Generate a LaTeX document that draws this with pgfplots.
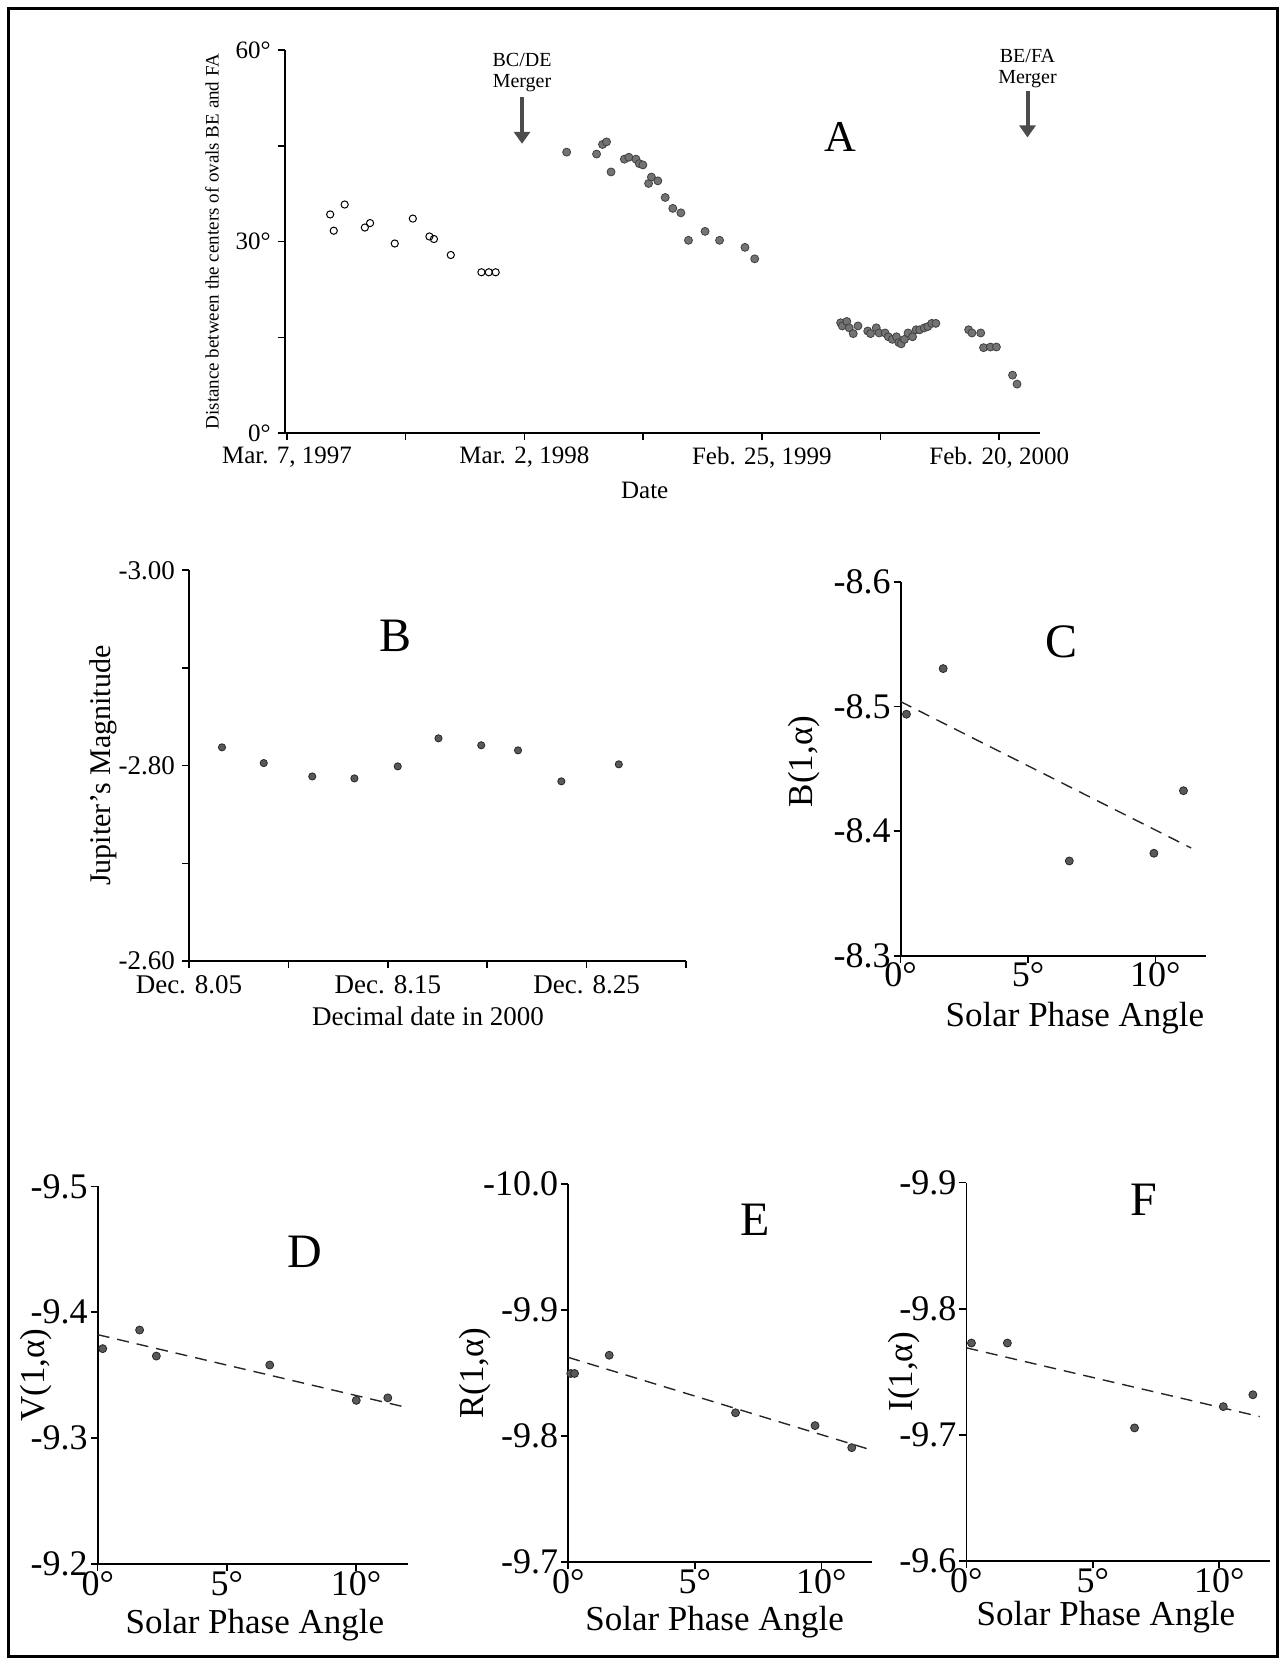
\documentclass[border=0pt]{standalone}
\usepackage{fontspec}
\setmainfont{Liberation Serif}
\usepackage{pgfplots}
\pgfplotsset{compat=1.18}
\usetikzlibrary{arrows.meta}
\newcommand{\fs}[1]{\fontsize{#1}{#1}\selectfont}
\tikzset{letter/.style={font=\fs{24}}}
\pgfplotsset{
  panel/.style={
    scale only axis, anchor=south west, clip=false,
    axis lines*=left, tick align=outside,
    major tick length=3.5pt,
    axis line style={line width=0.9pt, black},
    every tick/.style={line width=0.8pt, black},
    /pgf/number format/assume math mode=true,
    enlargelimits=false,
  },
  dots/.style={only marks, mark=*, mark size=2pt,
    mark options={fill=black!65, draw=black!85, line width=0.4pt}},
  fitline/.style={no marks, black!85, line width=0.7pt, dash pattern=on 6pt off 4pt},
  phase/.style={xmin=0, xmax=12, xtick={0,5,10}, xticklabels={0°,5°,10°},
    y dir=reverse, tick label style={font=\fs{18}},
    xticklabel style={yshift=3.5pt}, yticklabel style={xshift=2pt},
    xlabel={Solar Phase Angle}, label style={font=\fs{17.5}}},
}
\begin{document}
\begin{tikzpicture}
\useasboundingbox (0,0) rectangle (642.5pt,832.5pt);
\draw[line width=1.2pt] (4.25pt,4.15pt) rectangle (638.8pt,828.25pt);

% ---------------- Panel A ----------------
\begin{axis}[panel, at={(142.3pt,615.85pt)}, width=377.5pt, height=191.7pt,
  xmin=-0.01, xmax=3.17, ymin=0, ymax=60,
  xtick={0,0.5,1,1.5,2,2.5,3},
  xticklabels={{Mar. 7, 1997},{},{Mar. 2, 1998},{},{Feb. 25, 1999},{},{Feb. 20, 2000}},
  ytick={0,15,30,45,60}, yticklabels={0°,,30°,,60°},
  tick label style={font=\fs{12.5}},
  xlabel={Date}, xlabel style={font=\fs{12.5}, at={(axis description cs:0.477,-0.149)}, anchor=center},
  ylabel={Distance between the centers of ovals BE and FA},
  ylabel style={font=\fs{9.5}, at={(axis description cs:-0.096,0.5)}, anchor=center},
]
\addplot[only marks, mark=o, mark size=1.8pt, mark options={draw=black, line width=0.5pt}] coordinates {
(0.182,34.25) (0.197,31.7) (0.243,35.8) (0.328,32.2) (0.350,32.9) (0.454,29.7)
(0.530,33.6) (0.600,30.8) (0.619,30.4) (0.690,27.9) (0.819,25.2) (0.850,25.2) (0.879,25.2)
};
\addplot[only marks, mark=*, mark size=2pt, mark options={fill=black!55, draw=black!75, line width=0.4pt}] coordinates {
(1.178,44.0) (1.304,43.7) (1.329,45.2) (1.346,45.6) (1.365,40.9) (1.421,42.9)
(1.440,43.2) (1.470,42.9) (1.484,42.2) (1.499,42.0) (1.523,39.1) (1.535,40.1)
(1.562,39.5) (1.593,36.9) (1.625,35.2) (1.659,34.5) (1.691,30.2) (1.761,31.6)
(1.822,30.2) (1.929,29.1) (1.970,27.3)
(2.332,17.3) (2.339,16.8) (2.358,17.5) (2.368,16.5) (2.385,15.6) (2.405,16.8)
(2.446,16.0) (2.458,15.6) (2.482,16.5) (2.494,15.7) (2.519,15.7) (2.533,15.1)
(2.550,14.7) (2.567,15.1) (2.577,14.2) (2.587,14.0) (2.601,14.7) (2.616,15.7)
(2.635,15.1) (2.650,16.2) (2.665,16.2) (2.684,16.5) (2.699,16.7) (2.716,17.2) (2.733,17.2)
(2.871,16.2) (2.885,15.7) (2.922,15.7) (2.934,13.4) (2.963,13.5) (2.988,13.5)
(3.056,9.1) (3.075,7.7)
};
\draw[-{Triangle[width=8pt,length=6pt]}, line width=2pt, black!70] (axis cs:0.99,52.6) -- (axis cs:0.99,45.3);
\draw[-{Triangle[width=8pt,length=6pt]}, line width=2pt, black!70] (axis cs:3.119,53.5) -- (axis cs:3.119,46.3);
\node[align=center, font=\fontsize{10}{10.5}\selectfont] at (axis cs:0.99,56.4) {BC/DE\\Merger};
\node[align=center, font=\fontsize{10}{10.5}\selectfont] at (axis cs:3.119,57.05) {BE/FA\\Merger};
\node[font=\fs{22}] at (axis cs:2.332,46.4) {A};
\end{axis}

% ---------------- Panel B ----------------
\begin{axis}[panel, at={(94.5pt,351.95pt)}, width=248.5pt, height=195.4pt,
  xmin=8.05, xmax=8.30, ymin=-3, ymax=-2.6, y dir=reverse,
  xtick={8.05,8.10,8.15,8.20,8.25,8.30},
  xticklabels={Dec. 8.05,,Dec. 8.15,,Dec. 8.25,},
  ytick={-3,-2.9,-2.8,-2.7,-2.6}, yticklabels={-3.00,,-2.80,,-2.60},
  tick label style={font=\fs{13.5}},
  xlabel={Decimal date in 2000}, xlabel style={font=\fs{13.5}, at={(axis description cs:0.481,-0.141)}, anchor=center},
  ylabel={Jupiter’s Magnitude}, ylabel style={font=\fs{15}, at={(axis description cs:-0.173,0.5)}, anchor=center},
]
\addplot[dots, mark size=1.8pt] coordinates {
(8.0666,-2.8188) (8.0876,-2.8027) (8.1120,-2.7890) (8.1332,-2.7870) (8.1550,-2.7993)
(8.1755,-2.8280) (8.1970,-2.8209) (8.2155,-2.8157) (8.2373,-2.7840) (8.2662,-2.8014)
};
\node[letter] at (axis cs:8.154,-2.933) {B};
\end{axis}

% ---------------- Panel C ----------------
\begin{axis}[panel, phase, at={(450.3pt,354.6pt)}, width=152.9pt, height=186.9pt,
  ymin=-8.6, ymax=-8.3, ytick={-8.6,-8.5,-8.4,-8.3}, yticklabels={-8.6,-8.5,-8.4,-8.3},
  xlabel style={at={(axis description cs:0.57,-0.167)}, anchor=center},
  ylabel={B(1,α)}, ylabel style={at={(axis description cs:-0.316,0.52)}, anchor=center},
]
\addplot[dots] coordinates {(0.23,-8.4939) (1.67,-8.5305) (6.62,-8.3761) (9.94,-8.3823) (11.1,-8.4325)};
\addplot[fitline] coordinates {(0,-8.504) (11.4,-8.3865)};
\node[letter] at (axis cs:6.3,-8.552) {C};
\end{axis}

% ---------------- Panel D ----------------
\begin{axis}[panel, phase, at={(48.85pt,50.5pt)}, width=155pt, height=188.8pt,
  ymin=-9.5, ymax=-9.2, ytick={-9.5,-9.4,-9.3,-9.2}, yticklabels={-9.5,-9.4,-9.3,-9.2},
  xlabel style={at={(axis description cs:0.507,-0.161)}, anchor=center},
  ylabel={V(1,α)}, ylabel style={at={(axis description cs:-0.2,0.5)}, anchor=center},
]
\addplot[dots] coordinates {(0.195,-9.3711) (1.623,-9.3859) (2.27,-9.3652) (6.66,-9.3581) (10.01,-9.3300) (11.23,-9.3320)};
\addplot[fitline] coordinates {(0,-9.3822) (12,-9.3242)};
\node[letter] at (axis cs:8.0,-9.448) {D};
\end{axis}

% ---------------- Panel E ----------------
\begin{axis}[panel, phase, at={(284.1pt,51.5pt)}, width=151.9pt, height=188.9pt,
  ymin=-10, ymax=-9.7, ytick={-10,-9.9,-9.8,-9.7}, yticklabels={-10.0,-9.9,-9.8,-9.7},
  xlabel style={at={(axis description cs:0.482,-0.158)}, anchor=center},
  ylabel={R(1,α)}, ylabel style={at={(axis description cs:-0.305,0.5)}, anchor=center},
]
\addplot[dots] coordinates {(0.10,-9.8497) (0.25,-9.8497) (1.62,-9.8642) (6.61,-9.8185) (9.75,-9.8083) (11.2,-9.7908)};
\addplot[fitline] coordinates {(0,-9.8625) (12,-9.7888)};
\node[letter] at (axis cs:7.38,-9.972) {E};
\end{axis}

% ---------------- Panel F ----------------
\begin{axis}[panel, phase, at={(483.2pt,52pt)}, width=151.7pt, height=189.2pt,
  ymin=-9.9, ymax=-9.6, ytick={-9.9,-9.8,-9.7,-9.6}, yticklabels={-9.9,-9.8,-9.7,-9.6},
  xlabel style={at={(axis description cs:0.46,-0.149)}, anchor=center},
  ylabel={I(1,α)}, ylabel style={at={(axis description cs:-0.206,0.5)}, anchor=center},
]
\addplot[dots] coordinates {(0.2,-9.7728) (1.62,-9.7728) (6.65,-9.7055) (10.16,-9.7224) (11.33,-9.7318)};
\addplot[fitline] coordinates {(0,-9.769) (11.6,-9.7145)};
\node[letter] at (axis cs:7.0,-9.886) {F};
\end{axis}
\end{tikzpicture}
\end{document}
